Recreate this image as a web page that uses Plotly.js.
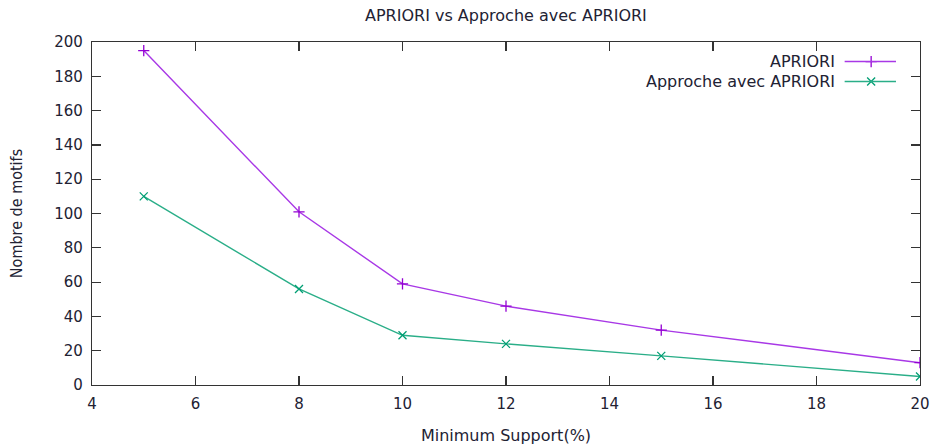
<!DOCTYPE html>
<html><head><meta charset="utf-8">
<script src="https://cdn.plot.ly/plotly-3.0.1.min.js"></script>
<style>html,body{margin:0;padding:0;background:#fff}</style>
</head><body><div id="chart" style="width:930px;height:446px"></div>
<script>
const support = [5, 8, 10, 12, 15, 20];
const apriori = [195, 101, 59, 46, 32, 13];
const approche = [110, 56, 29, 24, 17, 5];
const seriesNames = ["APRIORI", "Approche avec APRIORI"];
const colors = ["#9400d3", "#009e73"];
const lineColors = ["#a838e6", "#2aae88"];
const symbols = ["cross-thin-open", "x-thin-open"];

const font = "DejaVu Sans, Verdana, sans-serif";
const txt = "#222233";
const traces = [apriori, approche].map((ys, i) => ({
  x: support, y: ys, type: "scatter", mode: "lines+markers",
  name: seriesNames[i], showlegend: false,
  line: {color: lineColors[i], width: 1.4},
  marker: {symbol: symbols[i], size: 8, color: colors[i], line: {color: colors[i], width: 1.3}}
}));

const legY = [0.943, 0.885];
const annotations = [
  {text: "APRIORI vs Approche avec APRIORI", xref: "paper", yref: "paper", x: 0.5, y: 1.0, yanchor: "middle", yshift: 27, showarrow: false, font: {family: font, size: 16, color: txt}},
];
const shapes = [];
seriesNames.forEach((n, i) => {
  annotations.push({text: n, xref: "paper", yref: "paper", x: 0.9, y: legY[i], xanchor: "right", yanchor: "middle", showarrow: false, font: {family: font, size: 16, color: txt}});
  shapes.push({type: "line", xref: "paper", yref: "paper", x0: 0.909, x1: 0.971, y0: legY[i], y1: legY[i], line: {color: lineColors[i], width: 1.4}});
});

const layout = {
  width: 930, height: 446,
  margin: {l: 92, r: 10, t: 42, b: 61},
  paper_bgcolor: "#fff", plot_bgcolor: "#fff",
  font: {family: font, size: 15, color: txt},
  xaxis: {range: [4, 20], dtick: 2, tick0: 4, showgrid: false, zeroline: false,
    showline: true, mirror: "ticks", linecolor: "#333", linewidth: 1.2,
    ticks: "inside", ticklen: 9, tickcolor: "#333", tickwidth: 1.2,
    ticklabelstandoff: 5,
    tickfont: {family: font, size: 15, color: txt},
    title: {text: "Minimum Support(%)", font: {family: font, size: 16, color: txt}, standoff: 17}},
  yaxis: {range: [0, 200], dtick: 20, tick0: 0, showgrid: false, zeroline: false,
    showline: true, mirror: "ticks", linecolor: "#333", linewidth: 1.2,
    ticks: "inside", ticklen: 9, tickcolor: "#333", tickwidth: 1.2,
    ticklabelstandoff: 5,
    tickfont: {family: font, size: 15, color: txt},
    title: {text: "Nombre de motifs", font: {family: "DejaVu Sans Condensed, Liberation Sans Narrow, sans-serif", size: 16, color: txt}, standoff: 27}},
  annotations: annotations,
  shapes: shapes
};

traces.push({x: [0.941], y: [legY[0]], xaxis: "x2", yaxis: "y2", type: "scatter", mode: "markers", showlegend: false, hoverinfo: "skip",
  marker: {symbol: symbols[0], size: 8, color: colors[0], line: {color: colors[0], width: 1.3}}});
traces.push({x: [0.941], y: [legY[1]], xaxis: "x2", yaxis: "y2", type: "scatter", mode: "markers", showlegend: false, hoverinfo: "skip",
  marker: {symbol: symbols[1], size: 8, color: colors[1], line: {color: colors[1], width: 1.3}}});
layout.xaxis2 = {overlaying: "x", range: [0, 1], visible: false, fixedrange: true};
layout.yaxis2 = {overlaying: "y", range: [0, 1], visible: false, fixedrange: true};

Plotly.newPlot("chart", traces, layout, {displayModeBar: false, staticPlot: true});
</script></body></html>
